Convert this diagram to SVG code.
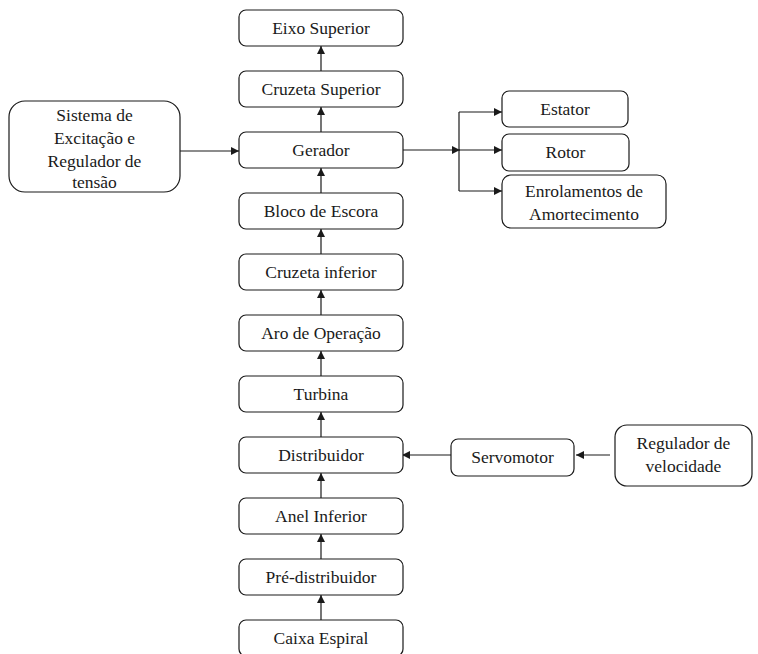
<svg xmlns="http://www.w3.org/2000/svg" width="758" height="654" viewBox="0 0 758 654">
  <style>
    .box { fill: #ffffff; stroke: #1a1a1a; stroke-width: 1.2; }
    .lbl { font-size: 17.5px; fill: #1a1a1a; text-anchor: middle; }
    .wire { fill: none; stroke: #1a1a1a; stroke-width: 1.2; }
  </style>
  <defs>
    <marker id="arrow" viewBox="0 0 10 10" refX="10" refY="5" markerWidth="8" markerHeight="8" markerUnits="userSpaceOnUse" orient="auto">
      <path d="M0,0 L10,5 L0,10 z" fill="#1a1a1a"/>
    </marker>
  </defs>
  <rect width="758" height="654" fill="#ffffff"/>

  <!-- connectors -->
  <g id="connectors">
    <line class="wire" x1="321" y1="71" x2="321" y2="46" marker-end="url(#arrow)"/>
    <line class="wire" x1="321" y1="132" x2="321" y2="107" marker-end="url(#arrow)"/>
    <line class="wire" x1="321" y1="193" x2="321" y2="168" marker-end="url(#arrow)"/>
    <line class="wire" x1="321" y1="254" x2="321" y2="229" marker-end="url(#arrow)"/>
    <line class="wire" x1="321" y1="315" x2="321" y2="290" marker-end="url(#arrow)"/>
    <line class="wire" x1="321" y1="376" x2="321" y2="351" marker-end="url(#arrow)"/>
    <line class="wire" x1="321" y1="437" x2="321" y2="412" marker-end="url(#arrow)"/>
    <line class="wire" x1="321" y1="498" x2="321" y2="473" marker-end="url(#arrow)"/>
    <line class="wire" x1="321" y1="559" x2="321" y2="534" marker-end="url(#arrow)"/>
    <line class="wire" x1="321" y1="620" x2="321" y2="595" marker-end="url(#arrow)"/>
    <!-- excitation to generator -->
    <line class="wire" x1="180" y1="151" x2="239" y2="151" marker-end="url(#arrow)"/>
    <!-- generator to its parts -->
    <line class="wire" x1="403" y1="150" x2="460" y2="150" marker-end="url(#arrow)"/>
    <line class="wire" x1="459" y1="112" x2="459" y2="191"/>
    <line class="wire" x1="459" y1="112" x2="502" y2="112" marker-end="url(#arrow)"/>
    <line class="wire" x1="459" y1="150" x2="502" y2="150" marker-end="url(#arrow)"/>
    <line class="wire" x1="459" y1="191" x2="502" y2="191" marker-end="url(#arrow)"/>
    <!-- speed control chain -->
    <line class="wire" x1="451" y1="455" x2="402" y2="455" marker-end="url(#arrow)"/>
    <line class="wire" x1="610" y1="455" x2="576" y2="455" marker-end="url(#arrow)"/>
  </g>

  <g font-family="Liberation Serif, Times New Roman, DejaVu Serif, serif">
  <g id="eixo-superior">
    <rect class="box" x="239" y="10" width="164" height="36" rx="7"/>
    <text class="lbl" x="321" y="34">Eixo Superior</text>
  </g>
  <g id="cruzeta-superior">
    <rect class="box" x="239" y="71" width="164" height="36" rx="7"/>
    <text class="lbl" x="321" y="95">Cruzeta Superior</text>
  </g>
  <g id="gerador">
    <rect class="box" x="239" y="132" width="164" height="36" rx="7"/>
    <text class="lbl" x="321" y="156">Gerador</text>
  </g>
  <g id="bloco-de-escora">
    <rect class="box" x="239" y="193" width="164" height="36" rx="7"/>
    <text class="lbl" x="321" y="217">Bloco de Escora</text>
  </g>
  <g id="cruzeta-inferior">
    <rect class="box" x="239" y="254" width="164" height="36" rx="7"/>
    <text class="lbl" x="321" y="278">Cruzeta inferior</text>
  </g>
  <g id="aro-de-operacao">
    <rect class="box" x="239" y="315" width="164" height="36" rx="7"/>
    <text class="lbl" x="321" y="339">Aro de Operação</text>
  </g>
  <g id="turbina">
    <rect class="box" x="239" y="376" width="164" height="36" rx="7"/>
    <text class="lbl" x="321" y="400">Turbina</text>
  </g>
  <g id="distribuidor">
    <rect class="box" x="239" y="437" width="164" height="36" rx="7"/>
    <text class="lbl" x="321" y="461">Distribuidor</text>
  </g>
  <g id="anel-inferior">
    <rect class="box" x="239" y="498" width="164" height="36" rx="7"/>
    <text class="lbl" x="321" y="522">Anel Inferior</text>
  </g>
  <g id="pre-distribuidor">
    <rect class="box" x="239" y="559" width="164" height="36" rx="7"/>
    <text class="lbl" x="321" y="583">Pré-distribuidor</text>
  </g>
  <g id="caixa-espiral">
    <rect class="box" x="239" y="620" width="164" height="36" rx="7"/>
    <text class="lbl" x="321" y="644">Caixa Espiral</text>
  </g>

  <g id="sistema-excitacao">
    <rect class="box" x="9" y="101" width="171" height="91" rx="16"/>
    <text class="lbl" x="94.5" y="121">Sistema de</text>
    <text class="lbl" x="94.5" y="144">Excitação e</text>
    <text class="lbl" x="94.5" y="167">Regulador de</text>
    <text class="lbl" x="94.5" y="188">tensão</text>
  </g>

  <g id="estator">
    <rect class="box" x="502" y="91" width="126" height="36" rx="7"/>
    <text class="lbl" x="565" y="115">Estator</text>
  </g>
  <g id="rotor">
    <rect class="box" x="502" y="134" width="127" height="37" rx="7"/>
    <text class="lbl" x="565.5" y="158">Rotor</text>
  </g>
  <g id="enrolamentos">
    <rect class="box" x="502" y="175" width="164" height="53" rx="9"/>
    <text class="lbl" x="584" y="197">Enrolamentos de</text>
    <text class="lbl" x="584" y="220">Amortecimento</text>
  </g>

  <g id="servomotor">
    <rect class="box" x="451" y="439" width="123" height="37" rx="7"/>
    <text class="lbl" x="512.5" y="463">Servomotor</text>
  </g>
  <g id="regulador-velocidade">
    <rect class="box" x="615" y="425" width="137" height="61" rx="12"/>
    <text class="lbl" x="683.5" y="449">Regulador de</text>
    <text class="lbl" x="683.5" y="472">velocidade</text>
  </g>
  </g>
</svg>
